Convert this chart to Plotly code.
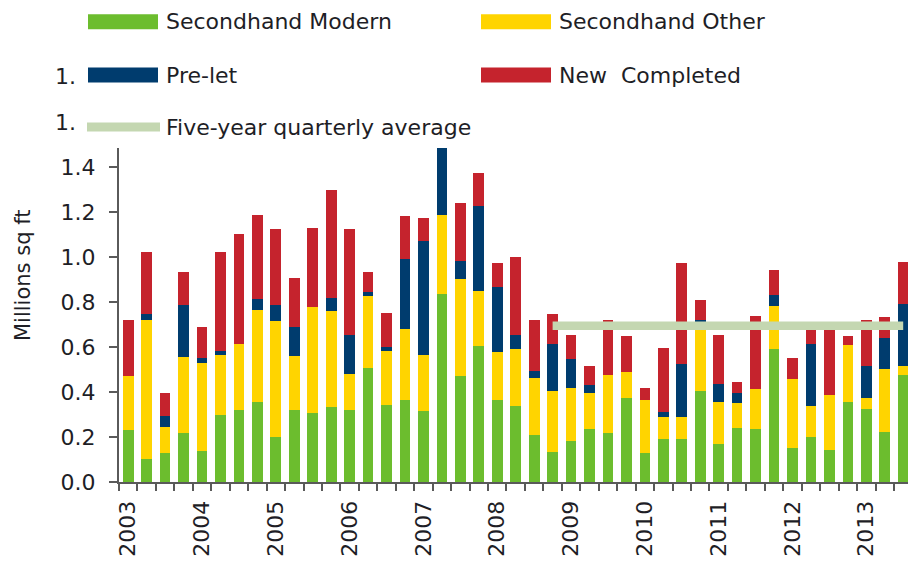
import plotly.graph_objects as go

# ---------------- data ----------------
quarters = [f"{y} Q{q}" for y in range(2003, 2014) for q in range(1, 5)][:43]
year_labels = ["2003", "2004", "2005", "2006", "2007", "2008",
               "2009", "2010", "2011", "2012", "2013"]

secondhand_modern = [0.233, 0.104, 0.129, 0.219, 0.138, 0.298, 0.321, 0.357,
                     0.200, 0.321, 0.307, 0.332, 0.319, 0.508, 0.341, 0.364,
                     0.316, 0.834, 0.470, 0.603, 0.364, 0.339, 0.209, 0.135,
                     0.182, 0.234, 0.219, 0.372, 0.130, 0.190, 0.193, 0.404,
                     0.167, 0.241, 0.237, 0.593, 0.153, 0.201, 0.144, 0.357,
                     0.324, 0.224, 0.476]
secondhand_other = [0.237, 0.615, 0.115, 0.337, 0.391, 0.268, 0.291, 0.409,
                    0.517, 0.238, 0.471, 0.427, 0.163, 0.320, 0.243, 0.314,
                    0.249, 0.353, 0.433, 0.247, 0.215, 0.250, 0.252, 0.268,
                    0.236, 0.162, 0.257, 0.115, 0.233, 0.100, 0.097, 0.303,
                    0.187, 0.110, 0.176, 0.188, 0.304, 0.138, 0.243, 0.252,
                    0.048, 0.279, 0.041]
pre_let = [0.000, 0.028, 0.048, 0.231, 0.022, 0.015, 0.000, 0.047,
           0.070, 0.130, 0.000, 0.060, 0.170, 0.015, 0.015, 0.314,
           0.508, 0.320, 0.081, 0.375, 0.289, 0.065, 0.032, 0.210,
           0.127, 0.037, 0.000, 0.000, 0.000, 0.021, 0.236, 0.013,
           0.083, 0.045, 0.000, 0.050, 0.000, 0.274, 0.000, 0.000,
           0.142, 0.138, 0.273]
new_completed = [0.250, 0.274, 0.104, 0.145, 0.136, 0.440, 0.492, 0.372,
                 0.337, 0.219, 0.351, 0.480, 0.474, 0.089, 0.152, 0.191,
                 0.102, 0.050, 0.258, 0.147, 0.104, 0.344, 0.226, 0.135,
                 0.110, 0.083, 0.244, 0.160, 0.055, 0.286, 0.449, 0.089,
                 0.218, 0.047, 0.323, 0.113, 0.093, 0.061, 0.323, 0.038,
                 0.206, 0.092, 0.188]
five_year_avg = [None] * 23 + [0.695] * 20

y_ticks = [0.0, 0.2, 0.4, 0.6, 0.8, 1.0, 1.2, 1.4]

# ---------------- style ----------------
C_GREEN = "#6cbd2e"
C_YELLOW = "#ffd400"
C_NAVY = "#003c6e"
C_RED = "#c5232d"
C_AVG = "#c4d7b1"
TXT = "#1e1e26"
AX = "#5a5a5a"
FONT = "DejaVu Sans"

W, H = 908, 562
ML, MR, MT, MB = 119, 0, 148, 80
PW = W - ML - MR
PH = H - MT - MB


def px(x):
    return (x - ML) / PW


def py(y):
    return (H - MB - y) / PH


x = list(range(len(quarters)))

fig = go.Figure()
for name, vals, col in [("Secondhand Modern", secondhand_modern, C_GREEN),
                        ("Secondhand Other", secondhand_other, C_YELLOW),
                        ("Pre-let", pre_let, C_NAVY),
                        ("New  Completed", new_completed, C_RED)]:
    fig.add_trace(go.Bar(x=x, y=vals, name=name, marker_color=col,
                         marker_line_width=0, hovertext=quarters,
                         showlegend=False))

fig.add_trace(go.Scatter(x=x, y=five_year_avg, mode="lines",
                         name="Five-year quarterly average",
                         line=dict(color=C_AVG, width=8.5),
                         showlegend=False))

# ---------------- legend (drawn manually) ----------------
shapes = []
annotations = []
legend_items = [
    ("Secondhand Modern", C_GREEN, 88, 21.7, "rect"),
    ("Secondhand Other", C_YELLOW, 481, 21.7, "rect"),
    ("Pre-let", C_NAVY, 88, 75, "rect"),
    ("New  Completed", C_RED, 481, 75, "rect"),
    ("Five-year quarterly average", C_AVG, 88, 127, "line"),
]
for label, col, sx, sy, kind in legend_items:
    if kind == "rect":
        shapes.append(dict(type="rect", xref="paper", yref="paper",
                           x0=px(sx), x1=px(sx + 70), y0=py(sy - 7.5), y1=py(sy + 7.5),
                           fillcolor=col, line_width=0, layer="above"))
    else:
        shapes.append(dict(type="line", xref="paper", yref="paper",
                           x0=px(sx - 1), x1=px(sx + 72), y0=py(sy), y1=py(sy),
                           line=dict(color=col, width=9), layer="above"))
    annotations.append(dict(text=label, xref="paper", yref="paper",
                            x=px(sx + 76), y=py(sy), xanchor="left", yanchor="middle",
                            showarrow=False, font=dict(family=FONT, size=22, color=TXT)))

# partially hidden tick labels peeking out from behind the legend
for yy in (76, 122.3):
    annotations.append(dict(text="1.", xref="paper", yref="paper",
                            x=px(78), y=py(yy), xanchor="right", yanchor="middle",
                            showarrow=False, font=dict(family=FONT, size=22, color=TXT)))

# y axis title
annotations.append(dict(text="Millions sq ft", xref="paper", yref="paper",
                        x=px(23), y=py(276), xanchor="center", yanchor="middle",
                        textangle=-90, showarrow=False,
                        font=dict(family=FONT, size=21, color=TXT)))

fig.update_layout(
    width=W, height=H,
    barmode="stack", bargap=0.42,
    plot_bgcolor="white", paper_bgcolor="white",
    margin=dict(l=ML, r=MR, t=MT, b=MB),
    shapes=shapes, annotations=annotations,
    font=dict(family=FONT, size=22, color=TXT),
)

fig.update_xaxes(
    range=[-0.5, 42.26], showgrid=False, zeroline=False,
    showline=True, linecolor=AX, linewidth=2,
    tickmode="array", tickvals=[4 * i for i in range(len(year_labels))],
    ticktext=year_labels, ticks="", tickangle=-90,
    tickfont=dict(family=FONT, size=22, color=TXT),
    ticklabelstandoff=8,
    minor=dict(tickmode="array", tickvals=[i - 0.5 for i in range(len(quarters) + 1)],
               ticks="outside", ticklen=7, tickwidth=2, tickcolor=AX, showgrid=False),
    automargin=False, fixedrange=True,
)
fig.update_yaxes(
    range=[0, (H - MB - MT) / 225], showgrid=False, zeroline=False,
    showline=True, linecolor=AX, linewidth=2,
    tickmode="array", tickvals=y_ticks, tickformat=".1f",
    ticks="outside", ticklen=8, tickwidth=2, tickcolor=AX,
    tickfont=dict(family=FONT, size=22, color=TXT),
    ticklabelstandoff=9,
    automargin=False, fixedrange=True,
)

fig.write_html("out.html", config={"displayModeBar": False})

# remove the browser's default 8px body margin so the figure sits at the page origin
with open("out.html", "r", encoding="utf-8") as f:
    html = f.read()
html = html.replace("<head>", "<head><style>html,body{margin:0;padding:0;overflow:hidden;}</style>", 1)
with open("out.html", "w", encoding="utf-8") as f:
    f.write(html)
